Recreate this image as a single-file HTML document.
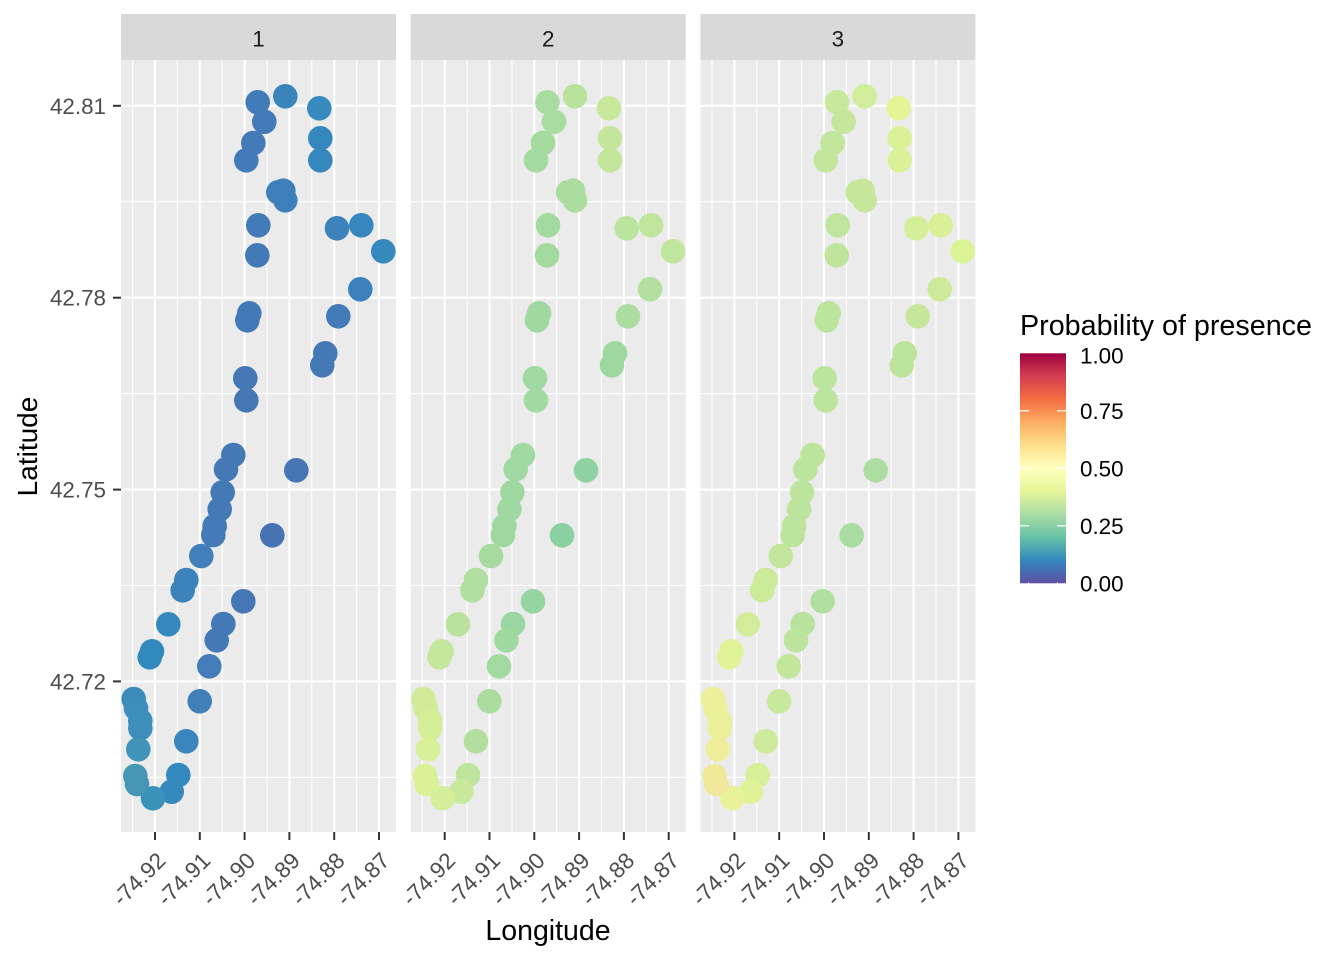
<!DOCTYPE html>
<html><head><meta charset="utf-8"><style>
html,body{margin:0;padding:0;background:#fff;}
svg{display:block;font-family:"Liberation Sans",Arial,sans-serif;}
</style></head><body>
<svg width="1344" height="960" viewBox="0 0 1344 960" xmlns="http://www.w3.org/2000/svg">
<defs>
<clipPath id="cp"><rect x="121" y="60" width="275" height="772"/></clipPath>
<linearGradient id="lg" x1="0" y1="1" x2="0" y2="0">
<stop offset="0" stop-color="#5E4FA2"/><stop offset="0.1" stop-color="#3288BD"/><stop offset="0.2" stop-color="#66C2A5"/><stop offset="0.3" stop-color="#ABDDA4"/><stop offset="0.4" stop-color="#E6F598"/><stop offset="0.5" stop-color="#FFFFBF"/><stop offset="0.6" stop-color="#FEE08B"/><stop offset="0.7" stop-color="#FDAE61"/><stop offset="0.8" stop-color="#F46D43"/><stop offset="0.9" stop-color="#D53E4F"/><stop offset="1" stop-color="#9E0142"/>
</linearGradient>
<g id="bg">
<rect x="121" y="60" width="275" height="772" fill="#EBEBEB"/>
<g stroke="#fff" stroke-width="1.1">
<line x1="121" x2="396" y1="201.7" y2="201.7"/><line x1="121" x2="396" y1="393.6" y2="393.6"/><line x1="121" x2="396" y1="585.5" y2="585.5"/><line x1="121" x2="396" y1="777.4" y2="777.4"/>
<line y1="60" y2="832" x1="132.6" x2="132.6"/><line y1="60" y2="832" x1="177.4" x2="177.4"/><line y1="60" y2="832" x1="222.2" x2="222.2"/><line y1="60" y2="832" x1="267" x2="267"/><line y1="60" y2="832" x1="311.8" x2="311.8"/><line y1="60" y2="832" x1="356.6" x2="356.6"/>
</g>
<g stroke="#fff" stroke-width="2.1">
<line x1="121" x2="396" y1="105.8" y2="105.8"/><line x1="121" x2="396" y1="297.7" y2="297.7"/><line x1="121" x2="396" y1="489.6" y2="489.6"/><line x1="121" x2="396" y1="681.4" y2="681.4"/>
<line y1="60" y2="832" x1="155" x2="155"/><line y1="60" y2="832" x1="199.8" x2="199.8"/><line y1="60" y2="832" x1="244.6" x2="244.6"/><line y1="60" y2="832" x1="289.4" x2="289.4"/><line y1="60" y2="832" x1="334.2" x2="334.2"/><line y1="60" y2="832" x1="379" x2="379"/>
</g>
<rect x="121" y="14" width="275" height="46" fill="#D9D9D9"/>
<g stroke="#333" stroke-width="2">
<line y1="832" y2="840" x1="155" x2="155"/><line y1="832" y2="840" x1="199.8" x2="199.8"/><line y1="832" y2="840" x1="244.6" x2="244.6"/><line y1="832" y2="840" x1="289.4" x2="289.4"/><line y1="832" y2="840" x1="334.2" x2="334.2"/><line y1="832" y2="840" x1="379" x2="379"/>
</g>
<g fill="#4D4D4D" font-size="22.6" text-anchor="end">
<text transform="translate(167,862) rotate(-45)">-74.92</text>
<text transform="translate(211.8,862) rotate(-45)">-74.91</text>
<text transform="translate(256.6,862) rotate(-45)">-74.90</text>
<text transform="translate(301.4,862) rotate(-45)">-74.89</text>
<text transform="translate(346.2,862) rotate(-45)">-74.88</text>
<text transform="translate(391,862) rotate(-45)">-74.87</text>
</g>
</g>
</defs>

<use href="#bg"/>
<use href="#bg" transform="translate(289.7,0)"/>
<use href="#bg" transform="translate(579.4,0)"/>

<g fill="#1A1A1A" font-size="22.4" text-anchor="middle">
<text x="258.5" y="46.5">1</text>
<text x="548.2" y="46.5">2</text>
<text x="837.9" y="46.5">3</text>
</g>

<g clip-path="url(#cp)">
<g>
<circle cx="257.7" cy="102.3" r="12.3" fill="#417bb8"/>
<circle cx="285.3" cy="96.3" r="12.3" fill="#3a84bc"/>
<circle cx="319.3" cy="108.3" r="12.3" fill="#368abd"/>
<circle cx="264.3" cy="121.7" r="12.3" fill="#437bb8"/>
<circle cx="253.3" cy="143" r="12.3" fill="#437ab7"/>
<circle cx="246.3" cy="160.3" r="12.3" fill="#437ab7"/>
<circle cx="320.3" cy="138.3" r="12.3" fill="#3488be"/>
<circle cx="320.3" cy="160.3" r="12.3" fill="#3488be"/>
<circle cx="278.3" cy="192.3" r="12.3" fill="#3d7fba"/>
<circle cx="283.3" cy="190.7" r="12.3" fill="#3d7fba"/>
<circle cx="285.3" cy="200.3" r="12.3" fill="#3d7fba"/>
<circle cx="258.3" cy="225.3" r="12.3" fill="#437bb8"/>
<circle cx="337" cy="228.3" r="12.3" fill="#3c82bb"/>
<circle cx="361.3" cy="225.3" r="12.3" fill="#3786bd"/>
<circle cx="257.3" cy="255.3" r="12.3" fill="#4479b7"/>
<circle cx="383.3" cy="251.3" r="12.3" fill="#3589bd"/>
<circle cx="360.3" cy="289.3" r="12.3" fill="#3c81bb"/>
<circle cx="249.3" cy="313.3" r="12.3" fill="#4279b7"/>
<circle cx="247.3" cy="320.3" r="12.3" fill="#4279b7"/>
<circle cx="338.3" cy="316.3" r="12.3" fill="#437bb8"/>
<circle cx="325.3" cy="353.3" r="12.3" fill="#4579b6"/>
<circle cx="322.3" cy="365.3" r="12.3" fill="#4579b6"/>
<circle cx="245.3" cy="378.3" r="12.3" fill="#4677b5"/>
<circle cx="246.3" cy="400.3" r="12.3" fill="#4677b5"/>
<circle cx="233.3" cy="455" r="12.3" fill="#4479b6"/>
<circle cx="226" cy="469.3" r="12.3" fill="#4479b6"/>
<circle cx="296.3" cy="470.3" r="12.3" fill="#4675b4"/>
<circle cx="222.7" cy="492.3" r="12.3" fill="#4479b6"/>
<circle cx="219.7" cy="509.3" r="12.3" fill="#4479b6"/>
<circle cx="214.7" cy="526" r="12.3" fill="#437ab7"/>
<circle cx="213.3" cy="535" r="12.3" fill="#437ab7"/>
<circle cx="272.3" cy="535.3" r="12.3" fill="#4772b3"/>
<circle cx="201.3" cy="556" r="12.3" fill="#407fba"/>
<circle cx="186.3" cy="580" r="12.3" fill="#3d83bb"/>
<circle cx="182.7" cy="590.3" r="12.3" fill="#3d83bb"/>
<circle cx="168.3" cy="624.3" r="12.3" fill="#3689bd"/>
<circle cx="152" cy="651.3" r="12.3" fill="#3289bd"/>
<circle cx="149.7" cy="657.3" r="12.3" fill="#3289bd"/>
<circle cx="243.3" cy="601.3" r="12.3" fill="#4677b5"/>
<circle cx="223.3" cy="624" r="12.3" fill="#4479b7"/>
<circle cx="216.7" cy="640.3" r="12.3" fill="#4479b6"/>
<circle cx="209.3" cy="666.3" r="12.3" fill="#437cb8"/>
<circle cx="199.7" cy="701.3" r="12.3" fill="#417fb9"/>
<circle cx="186.3" cy="741.3" r="12.3" fill="#3a85bc"/>
<circle cx="178.3" cy="775" r="12.3" fill="#3389bd"/>
<circle cx="171.7" cy="791.7" r="12.3" fill="#3589bd"/>
<circle cx="153" cy="798.3" r="12.3" fill="#3a91b9"/>
<circle cx="133.7" cy="699" r="12.3" fill="#3c8cbb"/>
<circle cx="136" cy="708.3" r="12.3" fill="#3d8fba"/>
<circle cx="140.3" cy="720.7" r="12.3" fill="#3c8fba"/>
<circle cx="140.3" cy="728.3" r="12.3" fill="#3c8fba"/>
<circle cx="138.3" cy="749.3" r="12.3" fill="#4193b8"/>
<circle cx="135.3" cy="776" r="12.3" fill="#4696b5"/>
<circle cx="137" cy="784" r="12.3" fill="#4595b6"/>
</g>
</g>

<g transform="translate(289.7,0)"><g clip-path="url(#cp)">
<circle cx="257.7" cy="102.3" r="12.3" fill="#a9dca0"/>
<circle cx="285.3" cy="96.3" r="12.3" fill="#b9e39d"/>
<circle cx="319.3" cy="108.3" r="12.3" fill="#c8e89b"/>
<circle cx="264.3" cy="121.7" r="12.3" fill="#a9dca0"/>
<circle cx="253.3" cy="143" r="12.3" fill="#a6dba0"/>
<circle cx="246.3" cy="160.3" r="12.3" fill="#a3daa0"/>
<circle cx="320.3" cy="138.3" r="12.3" fill="#c3e69c"/>
<circle cx="320.3" cy="160.3" r="12.3" fill="#c3e69c"/>
<circle cx="278.3" cy="192.3" r="12.3" fill="#acdda0"/>
<circle cx="283.3" cy="190.7" r="12.3" fill="#acdda0"/>
<circle cx="285.3" cy="200.3" r="12.3" fill="#acdda0"/>
<circle cx="258.3" cy="225.3" r="12.3" fill="#a3daa0"/>
<circle cx="337" cy="228.3" r="12.3" fill="#bbe49d"/>
<circle cx="361.3" cy="225.3" r="12.3" fill="#c0e59c"/>
<circle cx="257.3" cy="255.3" r="12.3" fill="#a3daa0"/>
<circle cx="383.3" cy="251.3" r="12.3" fill="#c0e59c"/>
<circle cx="360.3" cy="289.3" r="12.3" fill="#b3e09e"/>
<circle cx="249.3" cy="313.3" r="12.3" fill="#a0d9a0"/>
<circle cx="247.3" cy="320.3" r="12.3" fill="#a0d9a0"/>
<circle cx="338.3" cy="316.3" r="12.3" fill="#acdda0"/>
<circle cx="325.3" cy="353.3" r="12.3" fill="#9ed8a1"/>
<circle cx="322.3" cy="365.3" r="12.3" fill="#9ed8a1"/>
<circle cx="245.3" cy="378.3" r="12.3" fill="#a0d9a1"/>
<circle cx="246.3" cy="400.3" r="12.3" fill="#a0d9a1"/>
<circle cx="233.3" cy="455" r="12.3" fill="#a0d9a1"/>
<circle cx="226" cy="469.3" r="12.3" fill="#a0d9a1"/>
<circle cx="296.3" cy="470.3" r="12.3" fill="#8ed2a2"/>
<circle cx="222.7" cy="492.3" r="12.3" fill="#9fd8a1"/>
<circle cx="219.7" cy="509.3" r="12.3" fill="#9fd8a1"/>
<circle cx="214.7" cy="526" r="12.3" fill="#9ed8a1"/>
<circle cx="213.3" cy="535" r="12.3" fill="#9ed8a1"/>
<circle cx="272.3" cy="535.3" r="12.3" fill="#8ad0a2"/>
<circle cx="201.3" cy="556" r="12.3" fill="#a7dba0"/>
<circle cx="186.3" cy="580" r="12.3" fill="#b0df9f"/>
<circle cx="182.7" cy="590.3" r="12.3" fill="#b0df9f"/>
<circle cx="168.3" cy="624.3" r="12.3" fill="#b8e29d"/>
<circle cx="152" cy="651.3" r="12.3" fill="#c3e79b"/>
<circle cx="149.7" cy="657.3" r="12.3" fill="#c3e79b"/>
<circle cx="243.3" cy="601.3" r="12.3" fill="#96d5a1"/>
<circle cx="223.3" cy="624" r="12.3" fill="#9ad6a1"/>
<circle cx="216.7" cy="640.3" r="12.3" fill="#a0d9a0"/>
<circle cx="209.3" cy="666.3" r="12.3" fill="#a3daa0"/>
<circle cx="199.7" cy="701.3" r="12.3" fill="#aadca0"/>
<circle cx="186.3" cy="741.3" r="12.3" fill="#b2df9e"/>
<circle cx="178.3" cy="775" r="12.3" fill="#bfe59c"/>
<circle cx="171.7" cy="791.7" r="12.3" fill="#c8e89b"/>
<circle cx="153" cy="798.3" r="12.3" fill="#d4ee99"/>
<circle cx="133.7" cy="699" r="12.3" fill="#d0ec99"/>
<circle cx="136" cy="708.3" r="12.3" fill="#d0ec99"/>
<circle cx="140.3" cy="720.7" r="12.3" fill="#d4ee98"/>
<circle cx="140.3" cy="728.3" r="12.3" fill="#d4ee98"/>
<circle cx="138.3" cy="749.3" r="12.3" fill="#d8f098"/>
<circle cx="135.3" cy="776" r="12.3" fill="#dbf197"/>
<circle cx="137" cy="784" r="12.3" fill="#dbf197"/>
</g></g>

<g transform="translate(579.4,0)"><g clip-path="url(#cp)">
<circle cx="257.7" cy="102.3" r="12.3" fill="#c8e89b"/>
<circle cx="285.3" cy="96.3" r="12.3" fill="#d2ed99"/>
<circle cx="319.3" cy="108.3" r="12.3" fill="#e4f497"/>
<circle cx="264.3" cy="121.7" r="12.3" fill="#c6e79b"/>
<circle cx="253.3" cy="143" r="12.3" fill="#c2e69c"/>
<circle cx="246.3" cy="160.3" r="12.3" fill="#c2e69c"/>
<circle cx="320.3" cy="138.3" r="12.3" fill="#dcf197"/>
<circle cx="320.3" cy="160.3" r="12.3" fill="#dcf197"/>
<circle cx="278.3" cy="192.3" r="12.3" fill="#c6e79b"/>
<circle cx="283.3" cy="190.7" r="12.3" fill="#c6e79b"/>
<circle cx="285.3" cy="200.3" r="12.3" fill="#c6e79b"/>
<circle cx="258.3" cy="225.3" r="12.3" fill="#c0e59c"/>
<circle cx="337" cy="228.3" r="12.3" fill="#d4ee98"/>
<circle cx="361.3" cy="225.3" r="12.3" fill="#daf097"/>
<circle cx="257.3" cy="255.3" r="12.3" fill="#bfe59c"/>
<circle cx="383.3" cy="251.3" r="12.3" fill="#dcf297"/>
<circle cx="360.3" cy="289.3" r="12.3" fill="#cdea9a"/>
<circle cx="249.3" cy="313.3" r="12.3" fill="#bde49d"/>
<circle cx="247.3" cy="320.3" r="12.3" fill="#bde49d"/>
<circle cx="338.3" cy="316.3" r="12.3" fill="#c6e79b"/>
<circle cx="325.3" cy="353.3" r="12.3" fill="#bde49c"/>
<circle cx="322.3" cy="365.3" r="12.3" fill="#bde49c"/>
<circle cx="245.3" cy="378.3" r="12.3" fill="#bbe49d"/>
<circle cx="246.3" cy="400.3" r="12.3" fill="#bbe49d"/>
<circle cx="233.3" cy="455" r="12.3" fill="#bde49c"/>
<circle cx="226" cy="469.3" r="12.3" fill="#bde49c"/>
<circle cx="296.3" cy="470.3" r="12.3" fill="#addda0"/>
<circle cx="222.7" cy="492.3" r="12.3" fill="#bde49c"/>
<circle cx="219.7" cy="509.3" r="12.3" fill="#bde49c"/>
<circle cx="214.7" cy="526" r="12.3" fill="#bce49d"/>
<circle cx="213.3" cy="535" r="12.3" fill="#bce49d"/>
<circle cx="272.3" cy="535.3" r="12.3" fill="#a9dca0"/>
<circle cx="201.3" cy="556" r="12.3" fill="#c3e69c"/>
<circle cx="186.3" cy="580" r="12.3" fill="#cbea9a"/>
<circle cx="182.7" cy="590.3" r="12.3" fill="#cbea9a"/>
<circle cx="168.3" cy="624.3" r="12.3" fill="#d2ed99"/>
<circle cx="152" cy="651.3" r="12.3" fill="#e1f397"/>
<circle cx="149.7" cy="657.3" r="12.3" fill="#e1f397"/>
<circle cx="243.3" cy="601.3" r="12.3" fill="#b0df9f"/>
<circle cx="223.3" cy="624" r="12.3" fill="#b8e29d"/>
<circle cx="216.7" cy="640.3" r="12.3" fill="#bde49c"/>
<circle cx="209.3" cy="666.3" r="12.3" fill="#c1e69c"/>
<circle cx="199.7" cy="701.3" r="12.3" fill="#c8e89b"/>
<circle cx="186.3" cy="741.3" r="12.3" fill="#cdea9a"/>
<circle cx="178.3" cy="775" r="12.3" fill="#d6ef98"/>
<circle cx="171.7" cy="791.7" r="12.3" fill="#e0f297"/>
<circle cx="153" cy="798.3" r="12.3" fill="#e9f29a"/>
<circle cx="133.7" cy="699" r="12.3" fill="#ecf09a"/>
<circle cx="136" cy="708.3" r="12.3" fill="#ecf09a"/>
<circle cx="140.3" cy="720.7" r="12.3" fill="#ebf19a"/>
<circle cx="140.3" cy="728.3" r="12.3" fill="#ebf19a"/>
<circle cx="138.3" cy="749.3" r="12.3" fill="#eeed9a"/>
<circle cx="135.3" cy="776" r="12.3" fill="#f0e99a"/>
<circle cx="137" cy="784" r="12.3" fill="#f0e89a"/>
</g></g>

<g stroke="#333" stroke-width="2">
<line x1="113" x2="121" y1="105.8" y2="105.8"/><line x1="113" x2="121" y1="297.7" y2="297.7"/><line x1="113" x2="121" y1="489.6" y2="489.6"/><line x1="113" x2="121" y1="681.4" y2="681.4"/>
</g>
<g fill="#4D4D4D" font-size="22.4" text-anchor="end">
<text x="106" y="113.8">42.81</text>
<text x="106" y="305.7">42.78</text>
<text x="106" y="497.6">42.75</text>
<text x="106" y="689.4">42.72</text>
</g>

<text x="548" y="940" font-size="28.5" text-anchor="middle" fill="#000">Longitude</text>
<text transform="translate(37,446.5) rotate(-90)" font-size="28" text-anchor="middle" fill="#000">Latitude</text>

<text x="1020" y="335" font-size="28.5" fill="#000" textLength="292" lengthAdjust="spacingAndGlyphs">Probability of presence</text>
<rect x="1020" y="353.3" width="46" height="230" fill="url(#lg)"/>
<g stroke="#fff" stroke-width="1.2">
<line x1="1020" x2="1029" y1="410.8" y2="410.8"/><line x1="1057" x2="1066" y1="410.8" y2="410.8"/>
<line x1="1020" x2="1029" y1="468.3" y2="468.3"/><line x1="1057" x2="1066" y1="468.3" y2="468.3"/>
<line x1="1020" x2="1029" y1="525.8" y2="525.8"/><line x1="1057" x2="1066" y1="525.8" y2="525.8"/>
<line x1="1028" x2="1029" y1="583" y2="583"/><line x1="1057" x2="1058" y1="583" y2="583"/>
</g>
<g fill="#000" font-size="22.4">
<text x="1080" y="363.3">1.00</text>
<text x="1080" y="418.8">0.75</text>
<text x="1080" y="476.3">0.50</text>
<text x="1080" y="533.8">0.25</text>
<text x="1080" y="591.3">0.00</text>
</g>
</svg>
</body></html>
